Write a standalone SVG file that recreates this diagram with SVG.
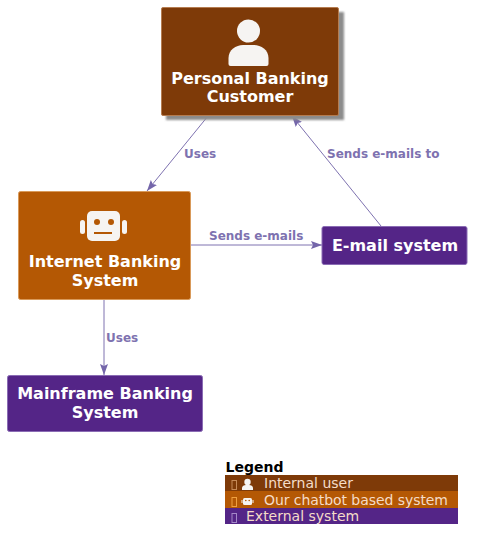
<svg xmlns="http://www.w3.org/2000/svg" width="480" height="549" viewBox="0 0 480 549">
<style>
text{font-family:"DejaVu Sans",sans-serif}
.t{font-size:16px;font-weight:bold;fill:#fff;text-anchor:middle}
.l{font-size:12px;font-weight:bold;fill:#7e72b0}
.c{fill:none;stroke:#7e72b0;stroke-width:1}
.lg{font-size:14px;fill:#f5dcc8}
.ic{fill:#f6f4f2}
.tf{fill:none;stroke-width:1}
</style>
<defs>
<marker id="a" markerWidth="12" markerHeight="9" refX="11" refY="4" orient="auto" markerUnits="userSpaceOnUse"><path d="M0 0L11 4L0 8L2 4Z" fill="#7466aa"/></marker>
<filter id="s" x="-10%" y="-10%" width="120%" height="120%"><feGaussianBlur stdDeviation="1"/></filter>
</defs>
<g id="connectors">
<line class="c" x1="208" y1="116" x2="147" y2="191" marker-end="url(#a)"/>
<line class="c" x1="381" y1="226" x2="292" y2="116" marker-end="url(#a)"/>
<line class="c" x1="191" y1="245" x2="322" y2="245" marker-end="url(#a)"/>
<line class="c" x1="104" y1="300" x2="104" y2="375" marker-end="url(#a)"/>
<text class="l" x="184" y="158">Uses</text>
<text class="l" x="327" y="158">Sends e-mails to</text>
<text class="l" x="209" y="240">Sends e-mails</text>
<text class="l" x="106" y="342">Uses</text>
</g>
<g id="customer">
<rect x="166" y="12" width="178" height="108" fill="#8c8c8c" filter="url(#s)"/>
<rect x="161.500" y="7.500" width="177" height="108" rx="1.500" fill="#7e3a08" stroke="#b57c50"/>
<circle class="ic" cx="248.500" cy="31" r="11.500"/>
<path class="ic" d="M228.500 64V58C228.500 50 236 45 243 45H254C261 45 268.500 50 268.500 58V64Q268.500 66 266.500 66H230.500Q228.500 66 228.500 64Z"/>
<text class="t" x="250" y="84">Personal Banking</text>
<text class="t" x="250" y="102">Customer</text>
</g>
<g id="internet">
<rect x="18.500" y="191.500" width="172" height="108" rx="2" fill="#b45804" stroke="#d99a5a"/>
<rect class="ic" x="87" y="211" width="33" height="30" rx="5"/>
<rect class="ic" x="80" y="220" width="5" height="14" rx="2.500"/>
<rect class="ic" x="122" y="220" width="5" height="14" rx="2.500"/>
<circle cx="97" cy="222" r="3" fill="#b45804"/><circle cx="111" cy="222" r="3" fill="#b45804"/>
<rect x="94" y="232" width="18" height="2" fill="#b45804"/>
<text class="t" x="105" y="267">Internet Banking</text>
<text class="t" x="105" y="286">System</text>
</g>
<g id="email">
<rect x="322" y="226.500" width="145" height="38" rx="2" fill="#542587" stroke="#8a6cb4"/>
<text class="t" x="395" y="251">E-mail system</text>
</g>
<g id="mainframe">
<rect x="7.500" y="375.500" width="195" height="56" rx="2" fill="#542587" stroke="#8a6cb4"/>
<text class="t" x="105" y="399">Mainframe Banking</text>
<text class="t" x="105" y="418">System</text>
</g>
<g id="legend">
<text x="225.500" y="472" font-size="14" font-weight="bold" fill="#000">Legend</text>
<rect x="225" y="475" width="233" height="16" fill="#7e3a08"/>
<rect x="225" y="491" width="233" height="17" fill="#b45804"/>
<rect x="225" y="508" width="233" height="16" fill="#542587"/>
<rect class="tf" x="232" y="480.500" width="4.500" height="9" stroke="#c68a58"/>
<rect class="tf" x="232" y="497.500" width="4.500" height="9" stroke="#f0a040"/>
<rect class="tf" x="232" y="513.500" width="4.500" height="9" stroke="#a488c8"/>
<circle class="ic" cx="247.500" cy="482" r="3.200"/><path class="ic" d="M242 490V488C242 486 244 485 246 485H249C251 485 253 486 253 488V490Z"/>
<rect class="ic" x="243" y="498" width="9" height="7" rx="1.500"/><rect class="ic" x="241.500" y="500" width="1" height="3"/><rect class="ic" x="252.500" y="500" width="1" height="3"/>
<circle cx="245.800" cy="500.500" r=".8" fill="#b45804"/><circle cx="249.200" cy="500.500" r=".8" fill="#b45804"/>
<text class="lg" x="264" y="488">Internal user</text>
<text class="lg" x="264" y="505" textLength="184">Our chatbot based system</text>
<text class="lg" x="246" y="521">External system</text>
</g>
</svg>
